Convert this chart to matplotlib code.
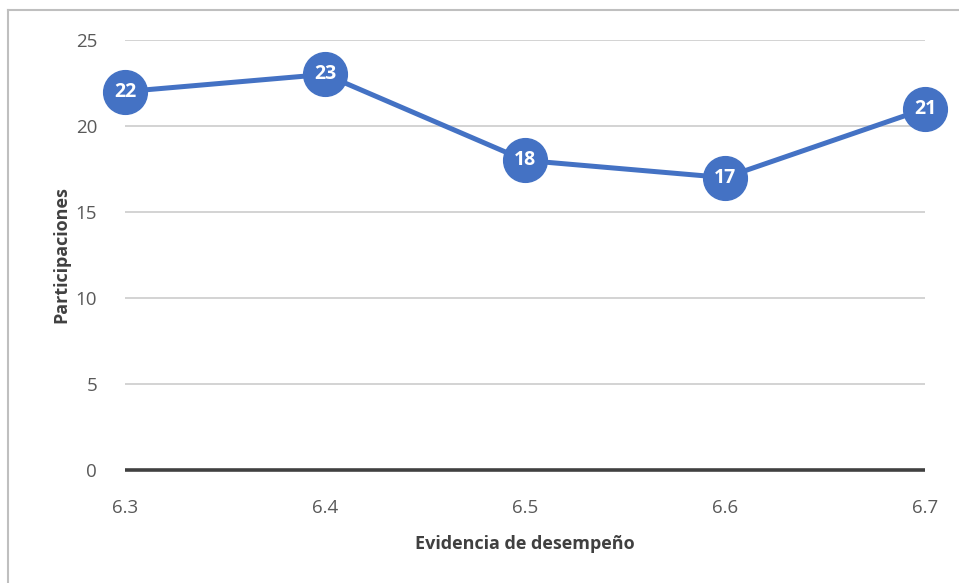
import matplotlib
matplotlib.use("Agg")
import matplotlib.pyplot as plt
from matplotlib.lines import Line2D

categories = [6.3, 6.4, 6.5, 6.6, 6.7]
values = [22, 23, 18, 17, 21]
yticks = [0, 5, 10, 15, 20, 25]
xticklabels = ["6.3", "6.4", "6.5", "6.6", "6.7"]

plt.rcParams['font.family'] = ['Open Sans', 'DejaVu Sans']

W, H = 959, 583
fig = plt.figure(figsize=(W/100, H/100), dpi=100)
ax = fig.add_axes([125/W, 1-470/H, 800/W, 430/H])

blue = "#4472C4"
for y in yticks[1:]:
    ax.axhline(y, color="#D0D0D0", lw=1.3, zorder=1)
ax.axhline(0, color="#404040", lw=2.6, zorder=2, clip_on=False, solid_capstyle="butt")

ax.plot(categories, values, color=blue, lw=3.6, marker="o", markersize=31.5,
        markerfacecolor=blue, markeredgecolor=blue, clip_on=False, zorder=3)
for x, v in zip(categories, values):
    ax.text(x, v, str(v), ha="center", va="center", color="white",
            fontsize=14, fontweight="bold", zorder=4)

ax.set_xlim(6.3, 6.7)
ax.set_ylim(0, 25)
ax.set_yticks(yticks)
ax.set_xticks(categories)
ax.set_xticklabels(xticklabels)
for s in ax.spines.values():
    s.set_visible(False)
ax.tick_params(axis="both", length=0, labelsize=13.5, labelcolor="#595959")
ax.tick_params(axis="y", pad=20)
ax.tick_params(axis="x", pad=21)

ax.set_ylabel("Participaciones", fontsize=13, fontweight="bold", color="#404040", labelpad=4)
ax.set_xlabel("Evidencia de desempeño", fontsize=13, fontweight="bold", color="#404040", labelpad=13)

# outer border lines (top and left)
fig.add_artist(Line2D([8/W, 1], [1-10/H, 1-10/H], color="#BFBFBF", lw=1.5, transform=fig.transFigure))
fig.add_artist(Line2D([8/W, 8/W], [0, 1-10/H], color="#BFBFBF", lw=1.5, transform=fig.transFigure))

fig.savefig("out.png", dpi=100)
